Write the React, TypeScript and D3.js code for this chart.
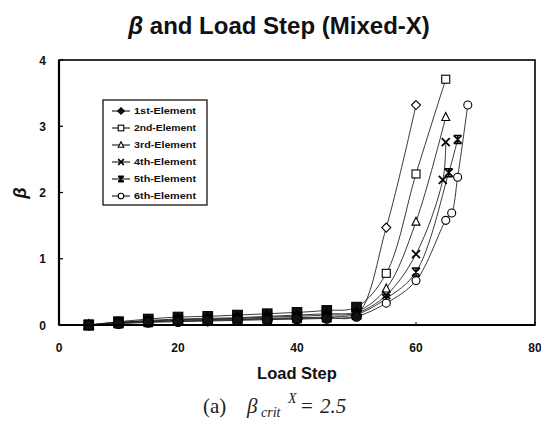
import React from "react";
import * as d3 from "d3";

const baseSteps = [5, 10, 15, 20, 25, 30, 35, 40, 45, 50];

const seriesNames = ["1st-Element", "2nd-Element", "3rd-Element", "4th-Element", "5th-Element", "6th-Element"];

const el1X = [...baseSteps, 55, 60];
const el1Y = [0, 0.03, 0.05, 0.06, 0.07, 0.08, 0.09, 0.1, 0.11, 0.15, 1.47, 3.32];
const el2X = [...baseSteps, 55, 60, 65];
const el2Y = [0, 0.05, 0.09, 0.12, 0.13, 0.15, 0.17, 0.19, 0.22, 0.27, 0.78, 2.28, 3.71];
const el3X = [...baseSteps, 55, 60, 65];
const el3Y = [0, 0.04, 0.07, 0.09, 0.1, 0.11, 0.13, 0.15, 0.17, 0.2, 0.55, 1.56, 3.14];
const el4X = [...baseSteps, 55, 60, 64.5, 65];
const el4Y = [0, 0.04, 0.06, 0.08, 0.09, 0.1, 0.12, 0.13, 0.15, 0.18, 0.45, 1.07, 2.19, 2.76];
const el5X = [...baseSteps, 55, 60, 65.5, 67];
const el5Y = [0, 0.03, 0.05, 0.07, 0.08, 0.09, 0.1, 0.11, 0.12, 0.16, 0.4, 0.8, 2.3, 2.8];
const el6X = [...baseSteps, 55, 60, 65, 66, 67, 68.7];
const el6Y = [0, 0.02, 0.04, 0.05, 0.06, 0.07, 0.08, 0.09, 0.1, 0.13, 0.33, 0.67, 1.58, 1.69, 2.23, 3.32];

const xTicks = [0, 20, 40, 60, 80];
const yTicks = [0, 1, 2, 3, 4];

const markers = ["diamond", "square", "triangle", "x", "star", "circle"];

const seriesX = [el1X, el2X, el3X, el4X, el5X, el6X];
const seriesY = [el1Y, el2Y, el3Y, el4Y, el5Y, el6Y];

const SANS = "'Liberation Sans', Arial, Helvetica, sans-serif";
const SERIF = "'Liberation Serif', 'Times New Roman', serif";

function Marker({ type, x, y, s = 4, filled = false }: { type: string; x: number; y: number; s?: number; filled?: boolean }) {
  const fill = filled ? "#111" : "#fff";
  const stroke = "#000";
  const sw = 1.1;
  switch (type) {
    case "diamond":
      return <path d={`M${x},${y - s - 0.5}L${x + s + 0.5},${y}L${x},${y + s + 0.5}L${x - s - 0.5},${y}Z`} fill={fill} stroke={stroke} strokeWidth={sw} />;
    case "square":
      return <rect x={x - s} y={y - s} width={2 * s} height={2 * s} fill={fill} stroke={stroke} strokeWidth={sw} />;
    case "triangle":
      return <path d={`M${x},${y - s - 0.5}L${x + s},${y + s - 0.5}L${x - s},${y + s - 0.5}Z`} fill={fill} stroke={stroke} strokeWidth={sw} />;
    case "x":
      return <path d={`M${x - s},${y - s}L${x + s},${y + s}M${x - s},${y + s}L${x + s},${y - s}`} stroke={stroke} strokeWidth={1.7} fill="none" />;
    case "star":
      return <path d={`M${x - s},${y - s}L${x + s},${y + s}M${x - s},${y + s}L${x + s},${y - s}M${x},${y - s}L${x},${y + s}M${x - s},${y - s}L${x + s},${y - s}M${x - s},${y + s}L${x + s},${y + s}`} stroke={stroke} strokeWidth={1.5} fill="none" />;
    case "circle":
      return <circle cx={x} cy={y} r={s} fill={fill} stroke={stroke} strokeWidth={sw} />;
    default:
      return null;
  }
}

export default function App() {
  const W = 541, H = 421;
  const left = 59, right = 535, top = 60, bottom = 325;
  const x = d3.scaleLinear().domain([0, 80]).range([left, right]);
  const y = d3.scaleLinear().domain([0, 4]).range([bottom, top]);
  const line = d3.line<[number, number]>().x(d => x(d[0])).y(d => y(d[1])).curve(d3.curveCatmullRom.alpha(0.5));

  const legendX = 103, legendY = 100, legendW = 104, legendH = 105;
  const rowGap = 17;

  return (
    <div style={{ position: "absolute", left: 0, top: 0 }}>
      <svg width={W} height={H} style={{ display: "block", background: "#fff" }}>
        <rect x={0} y={0} width={W} height={H} fill="#fff" />
        {/* Title */}
        <text x={279} y={34} textAnchor="middle" fontFamily={SANS} fontWeight="bold" fontSize={24} fill="#111">
          <tspan fontStyle="italic">β</tspan> and Load Step (Mixed-X)
        </text>

        {/* series lines */}
        {seriesX.map((xs, i) => {
          const pts = xs.map((v, j) => [v, seriesY[i][j]] as [number, number]);
          return <path key={"l" + i} d={line(pts) || ""} fill="none" stroke="#222" strokeWidth={0.9} />;
        })}
        {/* markers */}
        {seriesX.map((xs, i) =>
          xs.map((v, j) => (
            <Marker key={"m" + i + "-" + j} type={markers[i]} x={x(v)} y={y(seriesY[i][j])} s={j < baseSteps.length ? 4.8 : 4} filled={j < baseSteps.length} />
          ))
        )}

        {/* frame */}
        <rect x={left} y={top} width={right - left} height={bottom - top} fill="none" stroke="#000" strokeWidth={1.6} />
        <line x1={left} x2={left} y1={top} y2={bottom} stroke="#000" strokeWidth={2.2} />
        <line x1={left} x2={right} y1={bottom} y2={bottom} stroke="#000" strokeWidth={2.2} />

        {/* y ticks */}
        {yTicks.map(t => (
          <g key={"yt" + t}>
            <line x1={left} x2={left + 4} y1={y(t)} y2={y(t)} stroke="#000" strokeWidth={1.2} />
            <text x={46} y={y(t) + 4.5} textAnchor="end" fontFamily={SANS} fontWeight="bold" fontSize={12} fill="#111">{t}</text>
          </g>
        ))}
        {/* x ticks */}
        {xTicks.map(t => (
          <g key={"xt" + t}>
            <line x1={x(t)} x2={x(t)} y1={bottom} y2={bottom - 3} stroke="#000" strokeWidth={1} />
            <text x={x(t)} y={352} textAnchor="middle" fontFamily={SANS} fontWeight="bold" fontSize={12} fill="#111">{t}</text>
          </g>
        ))}

        {/* axis titles */}
        <text x={297} y={379} textAnchor="middle" fontFamily={SANS} fontWeight="bold" fontSize={16.5} fill="#111">Load Step</text>
        <text transform={`translate(26,193) rotate(-90)`} textAnchor="middle" fontFamily={SANS} fontWeight="bold" fontStyle="italic" fontSize={18} fill="#111">β</text>

        {/* legend */}
        <rect x={legendX} y={legendY} width={legendW} height={legendH} fill="#fff" stroke="#000" strokeWidth={1.2} />
        {seriesNames.map((name, i) => {
          const ry = legendY + 11 + i * rowGap;
          return (
            <g key={"lg" + i}>
              <line x1={112} x2={130} y1={ry} y2={ry} stroke="#000" strokeWidth={1} />
              <Marker type={markers[i]} x={121} y={ry} s={2.8} filled={i === 0} />
              <text x={134} y={ry + 3} fontFamily={SANS} fontWeight="bold" fontSize={9.5} fill="#111" textLength={62} lengthAdjust="spacingAndGlyphs">{name}</text>
            </g>
          );
        })}

        {/* caption */}
        <text y={413} fontFamily={SERIF} fontSize={21} fill="#222">
          <tspan x={203}>(a)</tspan>
          <tspan x={247} fontStyle="italic">β</tspan>
          <tspan x={261} fontStyle="italic" fontSize={14} dy={4}>crit</tspan>
          <tspan x={288} fontStyle="italic" fontSize={14} dy={-14}>X</tspan>
          <tspan x={301} dy={10}>=</tspan>
          <tspan x={320} fontStyle="italic">2.5</tspan>
        </text>
      </svg>
    </div>
  );
}
